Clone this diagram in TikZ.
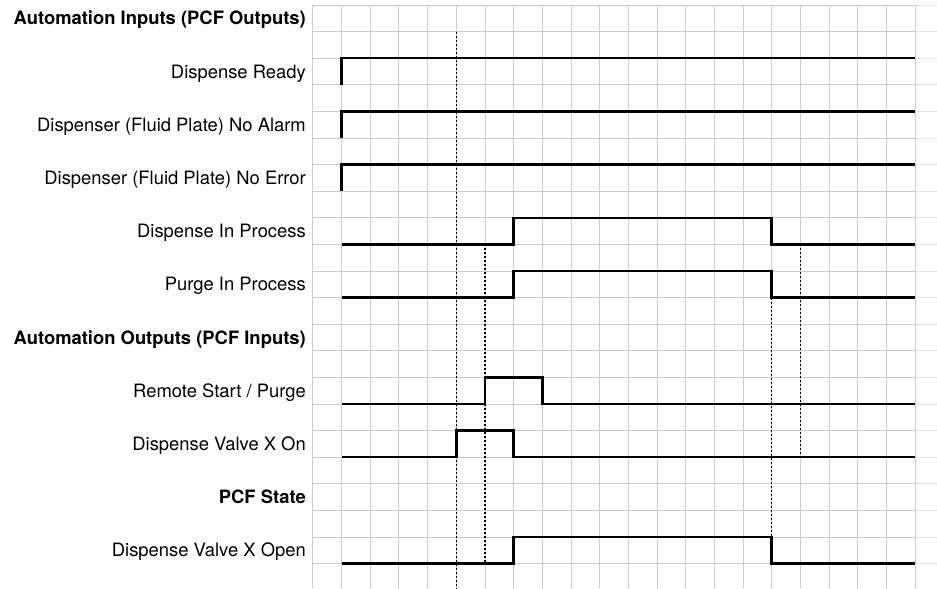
\documentclass[tikz,border=0pt]{standalone}
\usepackage{fontspec}
\setmainfont{TeX Gyre Heros}
\definecolor{gridgray}{HTML}{CCCCCC}
\definecolor{gridlight}{HTML}{E6E6E6}
\begin{document}
\begin{tikzpicture}[x=28.667pt,y=-26.6pt,
  gridline/.style={draw=gridgray,line width=1pt},
  gridfaint/.style={draw=gridlight,line width=1pt},
  sig/.style={draw=black,line width=2.5pt,line join=miter},
  marker/.style={draw=black,line width=1.1pt,dash pattern=on 2pt off 2pt},
  lbl/.style={anchor=base east,inner sep=0pt,font=\fontsize{18.4}{20}\selectfont},
  hdr/.style={anchor=base east,inner sep=0pt,font=\fontsize{18.4}{20}\selectfont\bfseries}]
\useasboundingbox (-10.918,-0.188) rectangle (21.767,21.917);
% grid
\begin{scope}
\clip (-10.918,-0.188) rectangle (21.767,21.917);
\foreach \j in {0,...,22} {
  \draw[gridline] (0,\j) -- (21,\j);
  \draw[gridfaint] (21,\j) -- (21.767,\j);
}
\foreach \i in {0,...,21} \draw[gridline] (\i,0) -- (\i,21.917);
\end{scope}
% labels
\node[hdr] (hin)   at (-0.244,0.748)  {Automation Inputs (PCF Outputs)};
\node[lbl] (dr)    at (-0.244,2.748)  {Dispense Ready};
\node[lbl] (alarm) at (-0.244,4.748)  {Dispenser (Fluid Plate) No Alarm};
\node[lbl] (err)   at (-0.244,6.748)  {Dispenser (Fluid Plate) No Error};
\node[lbl] (dip)   at (-0.244,8.748)  {Dispense In Process};
\node[lbl] (pip)   at (-0.244,10.748) {Purge In Process};
\node[hdr] (hout)  at (-0.244,12.748) {Automation Outputs (PCF Inputs)};
\node[lbl] (rs)    at (-0.244,14.748) {Remote Start / Purge};
\node[lbl] (von)   at (-0.244,16.748) {Dispense Valve X On};
\node[hdr] (hst)   at (-0.244,18.748) {PCF State};
\node[lbl] (vop)   at (-0.244,20.748) {Dispense Valve X Open};
% dotted markers
\draw[marker] (5,1) -- (5,21.917);
\draw[marker] (6,9) -- (6,21);
\draw[marker] (16,11) -- (16,20);
\draw[marker] (17,9) -- (17,17);
% signals
\draw[sig] (1,3) -- (1,2) -- (21,2);
\draw[sig] (1,5) -- (1,4) -- (21,4);
\draw[sig] (1,7) -- (1,6) -- (21,6);
\draw[sig] (1,9) -- (7,9) -- (7,8) -- (16,8) -- (16,9) -- (21,9);
\draw[sig] (1,11) -- (7,11) -- (7,10) -- (16,10) -- (16,11) -- (21,11);
\draw[sig] (1,15) -- (6,15) -- (6,14) -- (8,14) -- (8,15) -- (21,15);
\draw[sig] (1,17) -- (5,17) -- (5,16) -- (7,16) -- (7,17) -- (21,17);
\draw[sig] (1,21) -- (7,21) -- (7,20) -- (16,20) -- (16,21) -- (21,21);
\end{tikzpicture}
\end{document}
